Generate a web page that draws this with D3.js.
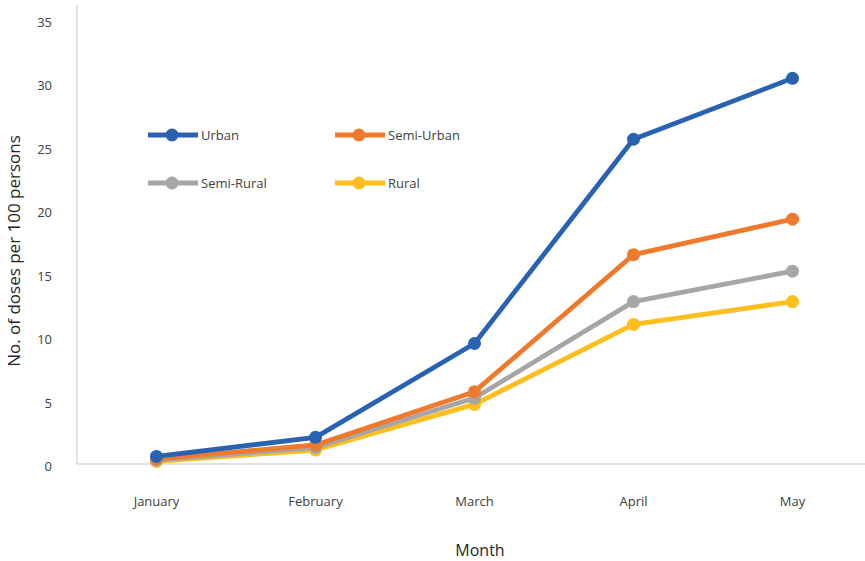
<!DOCTYPE html>
<html>
<head>
<meta charset="utf-8">
<script src="https://cdn.jsdelivr.net/npm/d3@7/dist/d3.min.js"></script>
<style>
  html, body { margin: 0; padding: 0; background: #fff; }
  svg { display: block; font-family: "Open Sans", "Liberation Sans", sans-serif; }
</style>
</head>
<body>
<svg id="chart" width="865" height="561"></svg>
<script>
// Vaccination doses per 100 persons by area type, January–May
const months = ["January", "February", "March", "April", "May"];
const seriesNames = ["Urban", "Semi-Urban", "Semi-Rural", "Rural"];
const urban = [0.6, 2.1, 9.5, 25.6, 30.4];
const semiUrban = [0.4, 1.5, 5.7, 16.5, 19.3];
const semiRural = [0.3, 1.3, 5.2, 12.8, 15.2];
const rural = [0.2, 1.1, 4.7, 11.0, 12.8];
const yTicks = [0, 5, 10, 15, 20, 25, 30, 35];
const colors = ["#2a62b2", "#ef7a2e", "#a6a6a6", "#fcbf1e"];

const series = [urban, semiUrban, semiRural, rural].map((values, i) => ({
  name: seriesNames[i], values, color: colors[i]
}));

const svg = d3.select("#chart");
const plotLeft = 77, plotRight = 872, plotTop = 20, plotBottom = 464;

const x = d3.scalePoint().domain(months).range([plotLeft, plotRight]).padding(0.5);
const y = d3.scaleLinear().domain([0, 35]).range([plotBottom, plotTop]);

// Axis lines
svg.append("line")
  .attr("x1", plotLeft).attr("x2", plotLeft).attr("y1", 5).attr("y2", plotBottom)
  .attr("stroke", "#d9d9d9").attr("stroke-width", 1.5);
svg.append("line")
  .attr("x1", plotLeft).attr("x2", 865).attr("y1", plotBottom).attr("y2", plotBottom)
  .attr("stroke", "#d9d9d9").attr("stroke-width", 1.5);

// Y tick labels
svg.append("g").selectAll("text").data(yTicks).join("text")
  .attr("x", 52).attr("y", d => y(d) + 7)
  .attr("text-anchor", "end")
  .attr("font-size", 13).attr("fill", "#404040")
  .text(d => d);

// X tick labels
svg.append("g").selectAll("text").data(months).join("text")
  .attr("x", d => x(d)).attr("y", 506)
  .attr("text-anchor", "middle")
  .attr("font-size", 13).attr("fill", "#404040")
  .text(d => d);

// Axis titles
svg.append("text")
  .attr("transform", "translate(20,251) rotate(-90)")
  .attr("text-anchor", "middle")
  .attr("font-size", 17).attr("fill", "#262626")
  .text("No. of doses per 100 persons");
svg.append("text")
  .attr("x", 480).attr("y", 556)
  .attr("text-anchor", "middle")
  .attr("font-size", 16).attr("fill", "#262626")
  .text("Month");

// Lines and markers
const line = d3.line().x((d, i) => x(months[i])).y(d => y(d));
const g = svg.append("g");
series.slice().reverse().forEach(s => {
  g.append("path")
    .attr("d", line(s.values))
    .attr("fill", "none")
    .attr("stroke", s.color)
    .attr("stroke-width", 4.8)
    .attr("stroke-linejoin", "round");
  g.append("g").selectAll("circle").data(s.values).join("circle")
    .attr("cx", (d, i) => x(months[i]))
    .attr("cy", d => y(d))
    .attr("r", 6.5)
    .attr("fill", s.color);
});

// Legend
const legendPos = [[148, 135], [335, 135], [148, 183], [335, 183]];
const legend = svg.append("g").selectAll("g").data(series).join("g")
  .attr("transform", (d, i) => `translate(${legendPos[i][0]},${legendPos[i][1]})`);
legend.append("line")
  .attr("x1", 0).attr("x2", 50)
  .attr("stroke", d => d.color).attr("stroke-width", 4.8);
legend.append("circle")
  .attr("cx", 24).attr("r", 6.5).attr("fill", d => d.color);
legend.append("text")
  .attr("x", 53).attr("y", 4.5)
  .attr("font-size", 13).attr("fill", "#404040")
  .text(d => d.name);
</script>
</body>
</html>
